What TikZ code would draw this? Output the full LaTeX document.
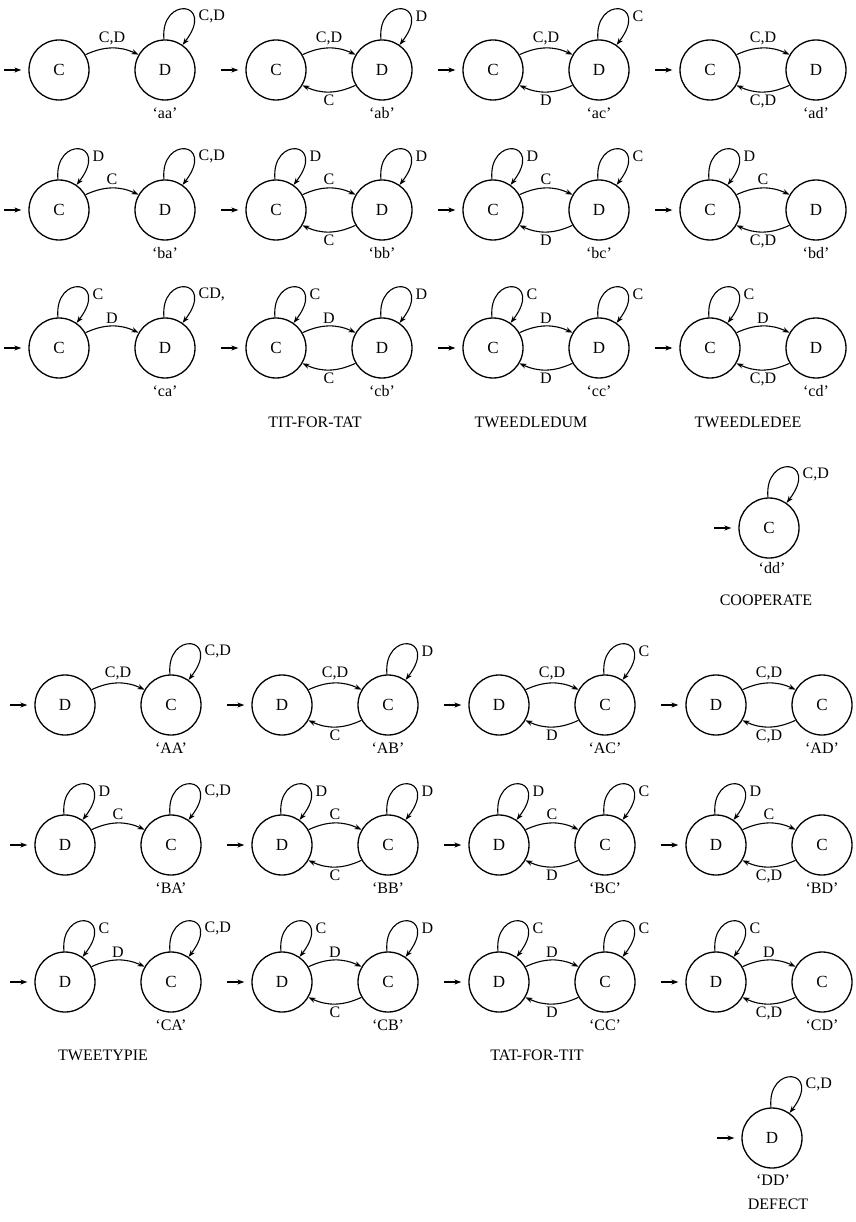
\documentclass[tikz,border=0pt]{standalone}
\usepackage{fontspec}
\setmainfont{Liberation Serif}
\usetikzlibrary{arrows.meta}
\tikzset{
  st/.style={circle,draw,line width=1.3pt,minimum size=60pt,inner sep=0pt,font=\fontsize{17}{19}\selectfont},
  tr/.style={line width=1.1pt,-{Stealth[length=7pt,width=5pt]}},
  lab/.style={font=\fontsize{16}{18}\selectfont,inner sep=2.5pt},
}
\newcommand{\pair}[5]{%
  \node[st] (#1L) at (#2,-#3) {#4};
  \node[st] (#1R) at (#2+106,-#3) {#5};
  \coordinate (#1S) at (#2-55,-#3);
  \draw[tr,shorten >=7pt] (#1S) -- (#1L);
}
\newcommand{\single}[5]{% id, x, y, letter, loop label
  \node[st] (#1L) at (#2,-#3) {#4};
  \coordinate (#1S) at (#2-55,-#3);
  \draw[tr,shorten >=7pt] (#1S) -- (#1L);
  \loopon{#1L}{#5}
}
\newcommand{\loopon}[2]{%
  \draw[tr] (#1.92) .. controls +(-4,44) and +(34,44) .. (#1.55);
  \node[lab,anchor=west] (#1lp) at ([shift={(31,54)}]#1.center) {#2};}
\newcommand{\fwd}[2]{\draw[tr] (#1L.30) to[bend left=25] node[lab,above] (#1fl) {#2} (#1R.150);}
\newcommand{\bwd}[2]{\draw[tr] (#1R.-150) to[bend left=25] node[lab,below] (#1bl) {#2} (#1L.-30);}
\newcommand{\sname}[2]{\node[lab] (#1N) at ([yshift=-43pt]#1R.center) {#2};}
\begin{document}
\begin{tikzpicture}[x=1pt,y=1pt]
\useasboundingbox (0,0) rectangle (855,-1222);
% ---------- top half ----------
% row a
\pair{aa}{59}{70}{C}{D}  \fwd{aa}{C,D} \loopon{aaR}{C,D} \sname{aa}{`aa'}
\pair{ab}{276}{70}{C}{D} \fwd{ab}{C,D} \loopon{abR}{D} \bwd{ab}{C} \sname{ab}{`ab'}
\pair{ac}{493}{70}{C}{D} \fwd{ac}{C,D} \loopon{acR}{C} \bwd{ac}{D} \sname{ac}{`ac'}
\pair{ad}{710}{70}{C}{D} \fwd{ad}{C,D} \bwd{ad}{C,D} \sname{ad}{`ad'}
% row b
\pair{ba}{59}{210}{C}{D}  \loopon{baL}{D} \fwd{ba}{C} \loopon{baR}{C,D} \sname{ba}{`ba'}
\pair{bb}{276}{210}{C}{D} \loopon{bbL}{D} \fwd{bb}{C} \loopon{bbR}{D} \bwd{bb}{C} \sname{bb}{`bb'}
\pair{bc}{493}{210}{C}{D} \loopon{bcL}{D} \fwd{bc}{C} \loopon{bcR}{C} \bwd{bc}{D} \sname{bc}{`bc'}
\pair{bd}{710}{210}{C}{D} \loopon{bdL}{D} \fwd{bd}{C} \bwd{bd}{C,D} \sname{bd}{`bd'}
% row c
\pair{ca}{59}{348}{C}{D}  \loopon{caL}{C} \fwd{ca}{D} \loopon{caR}{CD,} \sname{ca}{`ca'}
\pair{cb}{276}{348}{C}{D} \loopon{cbL}{C} \fwd{cb}{D} \loopon{cbR}{D} \bwd{cb}{C} \sname{cb}{`cb'}
\pair{cc}{493}{348}{C}{D} \loopon{ccL}{C} \fwd{cc}{D} \loopon{ccR}{C} \bwd{cc}{D} \sname{cc}{`cc'}
\pair{cd}{710}{348}{C}{D} \loopon{cdL}{C} \fwd{cd}{D} \bwd{cd}{C,D} \sname{cd}{`cd'}
\node[lab] (tft) at (315,-422) {TIT-FOR-TAT};
\node[lab] (tdum) at (531,-422) {TWEEDLEDUM};
\node[lab] (tdee) at (748,-422) {TWEEDLEDEE};
% cooperate
\single{dd}{769}{528}{C}{C,D}
\node[lab] (ddN) at (772,-568) {`dd'};
\node[lab] (coop) at (766,-600) {COOPERATE};
% ---------- bottom half ----------
\pair{AA}{65}{705}{D}{C}  \fwd{AA}{C,D} \loopon{AAR}{C,D} \sname{AA}{`AA'}
\pair{AB}{282}{705}{D}{C} \fwd{AB}{C,D} \loopon{ABR}{D} \bwd{AB}{C} \sname{AB}{`AB'}
\pair{AC}{499}{705}{D}{C} \fwd{AC}{C,D} \loopon{ACR}{C} \bwd{AC}{D} \sname{AC}{`AC'}
\pair{AD}{716}{705}{D}{C} \fwd{AD}{C,D} \bwd{AD}{C,D} \sname{AD}{`AD'}
\pair{BA}{65}{845}{D}{C}  \loopon{BAL}{D} \fwd{BA}{C} \loopon{BAR}{C,D} \sname{BA}{`BA'}
\pair{BB}{282}{845}{D}{C} \loopon{BBL}{D} \fwd{BB}{C} \loopon{BBR}{D} \bwd{BB}{C} \sname{BB}{`BB'}
\pair{BC}{499}{845}{D}{C} \loopon{BCL}{D} \fwd{BC}{C} \loopon{BCR}{C} \bwd{BC}{D} \sname{BC}{`BC'}
\pair{BD}{716}{845}{D}{C} \loopon{BDL}{D} \fwd{BD}{C} \bwd{BD}{C,D} \sname{BD}{`BD'}
\pair{CA}{65}{982}{D}{C}  \loopon{CAL}{C} \fwd{CA}{D} \loopon{CAR}{C,D} \sname{CA}{`CA'}
\pair{CB}{282}{982}{D}{C} \loopon{CBL}{C} \fwd{CB}{D} \loopon{CBR}{D} \bwd{CB}{C} \sname{CB}{`CB'}
\pair{CC}{499}{982}{D}{C} \loopon{CCL}{C} \fwd{CC}{D} \loopon{CCR}{C} \bwd{CC}{D} \sname{CC}{`CC'}
\pair{CD}{716}{982}{D}{C} \loopon{CDL}{C} \fwd{CD}{D} \bwd{CD}{C,D} \sname{CD}{`CD'}
\node[lab] (ttyp) at (103,-1055) {TWEETYPIE};
\node[lab] (tatft) at (537,-1055) {TAT-FOR-TIT};
% defect
\single{DD}{772}{1138}{D}{C,D}
\node[lab] (DDN) at (773,-1180) {`DD'};
\node[lab] (dfct) at (778,-1204) {DEFECT};
\end{tikzpicture}
\end{document}
